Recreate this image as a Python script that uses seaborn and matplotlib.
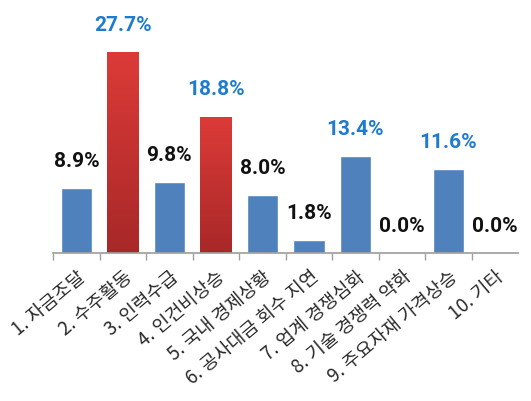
import numpy as np
import matplotlib
matplotlib.use("Agg")
import matplotlib.pyplot as plt
import matplotlib.colors as mcolors
import seaborn as sns

categories = ["1. 자금조달", "2. 수주활동", "3. 인력수급", "4. 인건비상승", "5. 국내 경제상황",
              "6. 공사대금 회수 지연", "7. 업계 경쟁심화", "8. 기술 경쟁력 약화",
              "9. 주요자재 가격상승", "10. 기타"]
values = [8.9, 27.7, 9.8, 18.8, 8.0, 1.8, 13.4, 0.0, 11.6, 0.0]
highlight = [False, True, False, True, False, False, False, False, False, False]
blue_label = [False, True, False, True, False, False, True, False, True, False]

sns.set_theme(style="white")
plt.rcParams["font.family"] = ["Noto Sans CJK KR", "DejaVu Sans"]

BLUE = "#4f81bd"
RED = "#c8322f"
colors = [RED if h else BLUE for h in highlight]

fig = plt.figure(figsize=(5.31, 4.02), dpi=100)
ax = fig.add_axes([0.1, 0.368, 0.876, 0.612])

sns.barplot(x=categories, y=values, hue=categories, palette=colors, legend=False,
            width=0.67, saturation=1, ax=ax)

# vertical gradient on the highlighted (red) bars
red_cmap = mcolors.LinearSegmentedColormap.from_list("redgrad", ["#a82828", "#dc3b38"])
grad = np.linspace(0, 1, 256).reshape(-1, 1)
for bar, h in zip(ax.patches, highlight):
    if not h:
        continue
    x0, y0 = bar.get_x(), bar.get_y()
    w, hgt = bar.get_width(), bar.get_height()
    im = ax.imshow(grad, cmap=red_cmap, aspect="auto", origin="lower",
                   extent=[x0, x0 + w, y0, y0 + hgt], zorder=bar.get_zorder() + 0.1)
    im.set_clip_path(bar)

for i, v in enumerate(values):
    ax.annotate(f"{v:.1f}%", (i, v), xytext=(0, 20), textcoords="offset points",
                ha="center", va="center", fontsize=15, fontweight="bold",
                family=["Roboto", "DejaVu Sans"],
                color="#1f7bcc" if blue_label[i] else "#111111")

ax.set_ylim(0, 33.9)
ax.set_xlim(-0.5, len(categories) - 0.5)
ax.set_yticks([])
ax.set_xlabel("")
ax.set_ylabel("")
for s in ["top", "right", "left"]:
    ax.spines[s].set_visible(False)
ax.spines["bottom"].set_color("#a0a0a0")

ax.set_xticks(np.arange(len(categories)))
ax.set_xticklabels(categories, rotation=40, ha="right", rotation_mode="anchor",
                   fontsize=13.5, color="#2a2a2a")
ax.tick_params(axis="x", which="major", length=0, pad=9)
ax.set_xticks(np.arange(len(categories)) - 0.5, minor=True)
ax.tick_params(axis="x", which="minor", length=5, color="#a0a0a0", direction="out", bottom=True)

fig.savefig("out.png", dpi=100)
